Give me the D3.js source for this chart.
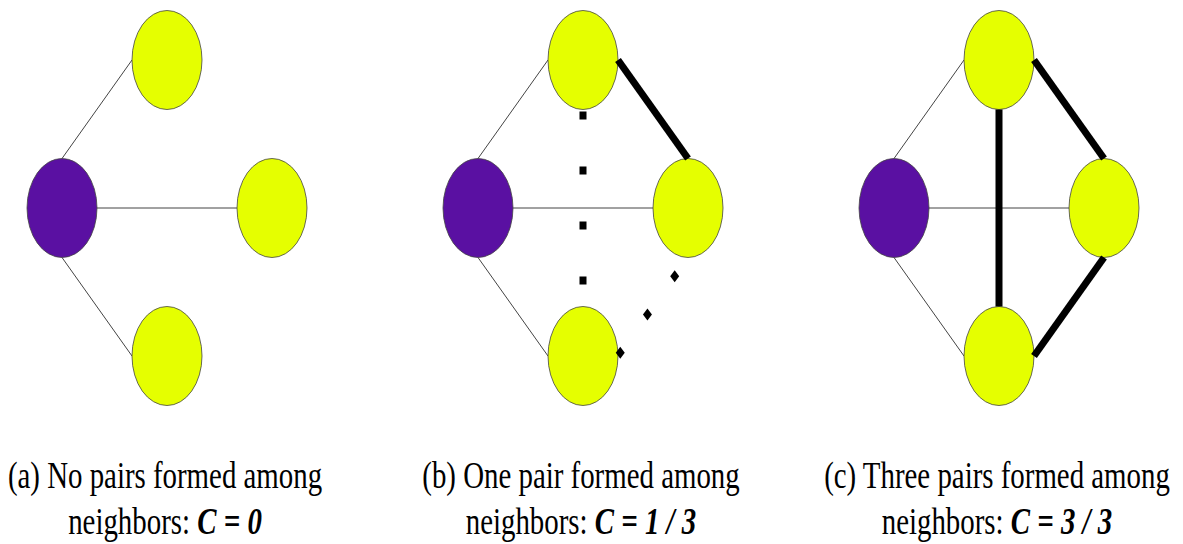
<!DOCTYPE html>
<html>
<head>
<meta charset="utf-8">
<script src="https://cdn.jsdelivr.net/npm/d3@7"></script>
<style>
  body { margin: 0; background: #fff; }
  svg { display: block; }
  .cap { font-family: "Liberation Serif", "Times New Roman", serif; font-size: 38px; }
</style>
</head>
<body>
<div id="chart"></div>
<script>
// panels and captions
const panels = ["a", "b", "c"];
const captionLine1 = ["(a) No pairs formed among", "(b) One pair formed among", "(c) Three pairs formed among"];
const captionLead = "neighbors: ";
const captionValue = ["C = 0", "C = 1 / 3", "C = 3 / 3"];

// nodes: grid column / row
const nodeIds = ["center", "top", "right", "bottom"];
const nodeCol = [0, 1, 2, 1];
const nodeRow = [0, -1, 0, 1];
const nodeKind = ["ego", "nbr", "nbr", "nbr"];

// edges: [source, target, source anchor, target anchor, style]
const spokeEdges = [
    ["center", "top", "top", "left", "thin"],
    ["center", "right", "right", "left", "thin"],
    ["center", "bottom", "bottom", "left", "thin"]
];
const edgesA = [];
const edgesB = [
    ["top", "right", "right", "top", "thick"],
    ["top", "bottom", "bottom", "top", "square"],
    ["right", "bottom", "bottom", "right", "diamond"]
];
const edgesC = [
    ["top", "right", "right", "top", "thick"],
    ["top", "bottom", "bottom", "top", "thick"],
    ["right", "bottom", "bottom", "right", "thick"]
];
const panelEdges = [edgesA, edgesB, edgesC];

const width = 1183, height = 544;
const rx = 35, ry = 49.5;
const fill = { ego: "#5a10a2", nbr: "#e5ff00" };
// the caption text is tall and narrow in the source
const capSquash = 0.76;

const svg = d3.select("#chart").append("svg")
    .attr("width", width)
    .attr("height", height);

const panelX = d3.scalePoint().domain(panels).range([0, 832]);
const xScale = d3.scaleLinear().domain([0, 2]).range([62, 272]);
const yScale = d3.scaleLinear().domain([-1, 1]).range([60, 356]);

function anchor(id, side) {
    const i = nodeIds.indexOf(id);
    const x = xScale(nodeCol[i]), y = yScale(nodeRow[i]);
    if (side === "top") return [x, y - ry];
    if (side === "bottom") return [x, y + ry];
    if (side === "left") return [x - rx, y];
    return [x + rx, y];
}

function edgeLine(e) {
    const s = anchor(e[0], e[2]), t = anchor(e[1], e[3]);
    return { x1: s[0], y1: s[1], x2: t[0], y2: t[1], style: e[4] };
}

panels.forEach((p, pi) => {
    const g = svg.append("g").attr("transform", `translate(${panelX(p)},0)`);

    // thin spokes from the ego node
    g.selectAll("line.spoke")
        .data(spokeEdges.map(edgeLine))
        .enter().append("line")
        .attr("class", "spoke")
        .attr("x1", d => d.x1).attr("y1", d => d.y1)
        .attr("x2", d => d.x2).attr("y2", d => d.y2)
        .attr("stroke", "#444")
        .attr("stroke-width", 1);

    // nodes
    g.selectAll("ellipse")
        .data(nodeIds)
        .enter().append("ellipse")
        .attr("cx", (d, i) => xScale(nodeCol[i]))
        .attr("cy", (d, i) => yScale(nodeRow[i]))
        .attr("rx", rx)
        .attr("ry", ry)
        .attr("fill", (d, i) => fill[nodeKind[i]])
        .attr("stroke", "#444")
        .attr("stroke-width", 0.8);

    const lines = panelEdges[pi].map(edgeLine);

    // solid thick pairs
    g.selectAll("line.thick")
        .data(lines.filter(d => d.style === "thick"))
        .enter().append("line")
        .attr("class", "thick")
        .attr("x1", d => d.x1).attr("y1", d => d.y1)
        .attr("x2", d => d.x2).attr("y2", d => d.y2)
        .attr("stroke", "#000")
        .attr("stroke-width", 7);

    // square dotted
    g.selectAll("line.square")
        .data(lines.filter(d => d.style === "square"))
        .enter().append("line")
        .attr("class", "square")
        .attr("x1", d => d.x1).attr("y1", d => d.y1)
        .attr("x2", d => d.x2).attr("y2", d => d.y2)
        .attr("stroke", "#000")
        .attr("stroke-width", 7)
        .attr("stroke-dasharray", "8 47")
        .attr("stroke-dashoffset", -2);

    // diamond dotted
    lines.filter(d => d.style === "diamond").forEach(d => {
        const len = Math.hypot(d.x2 - d.x1, d.y2 - d.y1);
        const ts = d3.range(23, len, 47).map(s => s / len);
        g.selectAll(null)
            .data(ts)
            .enter().append("path")
            .attr("d", "M0,-6L4.5,0L0,6L-4.5,0Z")
            .attr("transform", t => `translate(${d.x1 + (d.x2 - d.x1) * t},${d.y1 + (d.y2 - d.y1) * t})`)
            .attr("fill", "#000");
    });

    // caption
    const cx = xScale(1) - 2;
    g.append("text")
        .attr("class", "cap")
        .attr("transform", `translate(${cx},488) scale(${capSquash},1)`)
        .attr("text-anchor", "middle")
        .attr("fill", "#000")
        .text(captionLine1[pi]);

    const t2 = g.append("text")
        .attr("class", "cap")
        .attr("transform", `translate(${cx},534) scale(${capSquash},1)`)
        .attr("text-anchor", "middle")
        .attr("fill", "#000");
    t2.append("tspan").text(captionLead);
    t2.append("tspan")
        .style("font-weight", "bold")
        .style("font-style", "italic")
        .text(captionValue[pi]);
});
</script>
</body>
</html>
